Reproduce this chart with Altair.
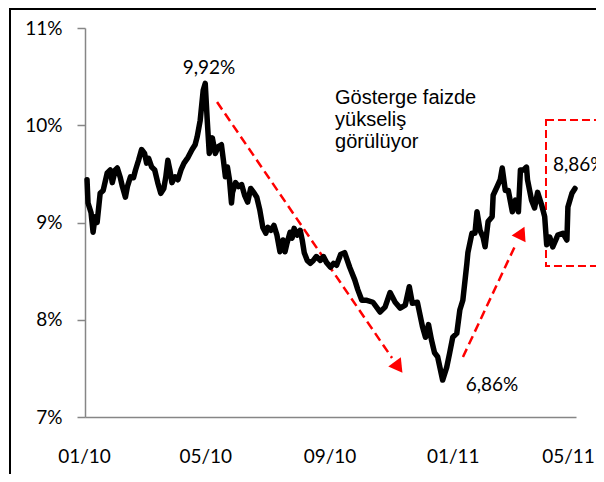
import altair as alt
import pandas as pd

# ---- data ----
# day offset from 2010-01-01 and benchmark yield (%)
day_offsets = [2, 3, 6, 8, 10, 12, 15, 18, 22, 25, 27, 30, 32, 35, 37, 40, 42, 45, 48, 50,
               53, 56, 59, 61, 63, 66, 69, 72, 75, 78, 80, 82, 84, 86, 89, 92, 95, 98, 102, 106,
               109, 111, 114, 117, 119, 121, 123, 126, 129, 132, 135, 137, 139, 141, 143, 145, 146, 149, 152, 155,
               158, 161, 164, 167, 170, 173, 176, 179, 181, 184, 187, 190, 193, 196, 198, 200, 203, 205, 207, 210,
               213, 215, 217, 220, 223, 226, 229, 233, 236, 239, 243, 246, 249, 253, 257, 262, 267, 270, 274, 279,
               285, 292, 297, 302, 307, 312, 317, 321, 324, 329, 334, 337, 340, 343, 346, 349, 354, 358, 361, 364,
               368, 371, 374, 378, 379, 383, 386, 388, 391, 394, 396, 399, 403, 404, 408, 411, 413, 416, 419, 423,
               426, 429, 431, 434, 437, 438, 442, 445, 448, 452, 455, 457, 460, 463, 468, 473, 477, 478, 482, 485]
yield_values = [9.44, 9.20, 9.10, 8.90, 9.06, 9.00, 9.30, 9.33, 9.51, 9.54, 9.41, 9.54, 9.56, 9.46, 9.37, 9.26, 9.37, 9.47, 9.46, 9.54,
                9.64, 9.75, 9.71, 9.61, 9.66, 9.57, 9.54, 9.41, 9.30, 9.35, 9.47, 9.64, 9.54, 9.41, 9.47, 9.44, 9.54, 9.61, 9.67, 9.75,
                9.80, 9.88, 10.05, 10.36, 10.43, 10.05, 9.71, 9.87, 9.71, 9.78, 9.80, 9.64, 9.47, 9.57, 9.44, 9.20, 9.31, 9.41, 9.37, 9.39,
                9.28, 9.21, 9.35, 9.31, 9.26, 9.13, 8.95, 8.89, 8.95, 8.92, 8.97, 8.87, 8.70, 8.82, 8.70, 8.79, 8.90, 8.84, 8.94, 8.87,
                8.92, 8.82, 8.69, 8.61, 8.58, 8.61, 8.65, 8.61, 8.65, 8.59, 8.54, 8.58, 8.56, 8.67, 8.69, 8.54, 8.41, 8.31, 8.20, 8.20,
                8.18, 8.08, 8.13, 8.28, 8.18, 8.12, 8.15, 8.34, 8.17, 8.18, 7.93, 7.82, 7.95, 7.79, 7.66, 7.62, 7.38, 7.51, 7.66, 7.82,
                7.86, 8.10, 8.20, 8.58, 8.69, 8.89, 8.89, 9.11, 8.92, 8.85, 8.75, 9.01, 9.06, 9.28, 9.37, 9.44, 9.56, 9.33, 9.33, 9.11,
                9.23, 9.11, 9.54, 9.54, 9.57, 9.44, 9.23, 9.15, 9.31, 9.18, 9.06, 8.77, 8.85, 8.75, 8.87, 8.89, 8.82, 9.16, 9.30, 9.35]

x_tick_days = [0, 120, 243, 365, 485]
x_tick_labels = ["01/10", "05/10", "09/10", "01/11", "05/11"]
y_ticks = [7, 8, 9, 10, 11]

# annotations
label_texts = ["9,92%", "6,86%"]
label_days = [122.7, 402.8]
label_vals = [10.589, 7.329]

right_label_text = ["8,86%"]
right_label_day = [463.2]
right_label_val = [9.591]

note_lines = ["Gösterge faizde", "yükseliş", "görülüyor"]
note_day = [247.5]
note_val = [10.383]

arrow_day1 = [130.7, 374.1]
arrow_val1 = [10.239, 7.617]
arrow_day2 = [303.9, 426.6]
arrow_val2 = [7.607, 8.779]
head_days = [310.3, 432.1]
head_vals = [7.511, 8.894]
head_angles = [144, 26]

box_day = [456.3]
box_top = [10.054]
box_bottom = [8.553]

# ---- frames ----
df = pd.DataFrame({"day": day_offsets, "value": yield_values})
df_lab = pd.DataFrame({"day": label_days, "value": label_vals, "text": label_texts})
df_rlab = pd.DataFrame({"day": right_label_day, "value": right_label_val, "text": right_label_text})
df_note = pd.DataFrame({"day": note_day, "value": note_val, "text": [note_lines]})
df_arrow = pd.DataFrame({"day": arrow_day1, "value": arrow_val1, "day2": arrow_day2, "value2": arrow_val2})
df_head = pd.DataFrame({"day": head_days, "value": head_vals, "angle": head_angles})
df_box = pd.DataFrame({"day": box_day, "value": box_top, "value2": box_bottom})
df_one = pd.DataFrame({"k": [0]})

GRAY = "#868686"
label_expr = " : ".join(
    f"datum.value == {d} ? '{t}'" for d, t in zip(x_tick_days, x_tick_labels)
) + " : ''"
last_tick = x_tick_days[-1]

x_scale = alt.Scale(domain=[0, 486], nice=False, zero=False)
y_scale = alt.Scale(domain=[7, 11], nice=False, zero=False)

line = alt.Chart(df).mark_line(
    color="black", strokeWidth=5.5, strokeJoin="round", strokeCap="round"
).encode(
    x=alt.X("day:Q", scale=x_scale, title=None,
            axis=alt.Axis(values=x_tick_days, labelExpr=label_expr, ticks=False, tickSize=0,
                          grid=False, domainColor=GRAY, domainWidth=1.5, labelFont="Lato",
                          labelFontSize=19, labelColor="black", labelPadding=30,
                          labelOffset={"expr": f"datum.value == {last_tick} ? -7 : -1"},
                          labelFlush=False, labelOverlap=False)),
    y=alt.Y("value:Q", scale=y_scale, title=None,
            axis=alt.Axis(values=y_ticks, labelExpr="datum.value + '%'", tickSize=8,
                          tickColor=GRAY, tickWidth=1.5, domainColor=GRAY, domainWidth=1.5,
                          grid=False, labelFont="Lato", labelFontSize=19, labelColor="black",
                          labelPadding=15, labelFlush=False)),
)

labels = alt.Chart(df_lab).mark_text(
    font="Lato", fontSize=19, color="black", align="center", baseline="middle"
).encode(x=alt.X("day:Q", scale=x_scale), y=alt.Y("value:Q", scale=y_scale), text="text:N")

rlabel = alt.Chart(df_rlab).mark_text(
    font="Lato", fontSize=19, color="black", align="left", baseline="middle"
).encode(x=alt.X("day:Q", scale=x_scale), y=alt.Y("value:Q", scale=y_scale), text="text:N")

note = alt.Chart(df_note).mark_text(
    font="Liberation Sans", fontSize=20, color="black", align="left", baseline="top",
    lineHeight=22
).encode(x=alt.X("day:Q", scale=x_scale), y=alt.Y("value:Q", scale=y_scale), text="text")

arrows = alt.Chart(df_arrow).mark_rule(
    color="#FF0000", strokeWidth=2.5, strokeDash=[9, 5]
).encode(x=alt.X("day:Q", scale=x_scale), y=alt.Y("value:Q", scale=y_scale),
         x2="day2:Q", y2="value2:Q")

heads = alt.Chart(df_head).mark_point(
    shape="triangle-up", filled=True, color="#FF0000", size=240, opacity=1
).encode(x=alt.X("day:Q", scale=x_scale), y=alt.Y("value:Q", scale=y_scale),
         angle=alt.Angle("angle:Q", scale=None))

box = alt.Chart(df_box).mark_rect(
    fillOpacity=0, stroke="#FF0000", strokeWidth=2, strokeDash=[8, 4]
).encode(x=alt.X("day:Q", scale=x_scale), x2=alt.value(600),
         y=alt.Y("value:Q", scale=y_scale), y2="value2:Q")

frame_left = alt.Chart(df_one).mark_rule(color="black", strokeWidth=2).encode(
    x=alt.value(-75), y=alt.value(-19), y2=alt.value(460))
frame_top = alt.Chart(df_one).mark_rule(color="black", strokeWidth=2).encode(
    x=alt.value(-76), x2=alt.value(540), y=alt.value(-19))

chart = alt.layer(
    frame_left, frame_top, box, arrows, heads, line, labels, rlabel, note
).properties(
    width=491, height=389,
    autosize=alt.AutoSizeParams(type="none"),
    padding={"left": 77, "top": 20, "right": 20, "bottom": 57},
).configure_view(stroke=None)

chart.save("out.html", embed_options={"renderer": "svg", "actions": False})
